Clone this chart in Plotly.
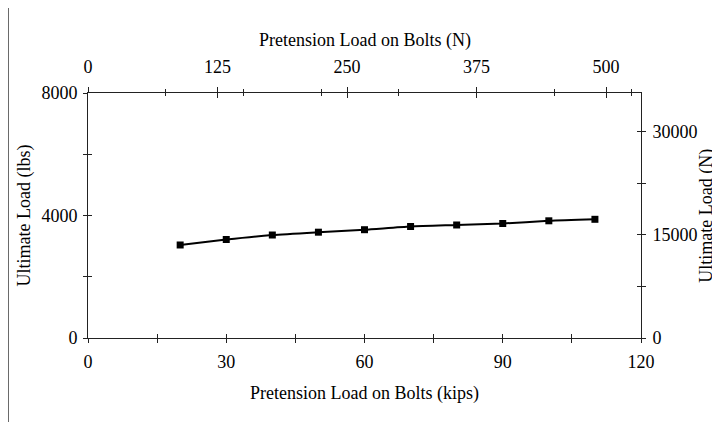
import plotly.graph_objects as go

# Datos
pretension_kips = [20, 30, 40, 50, 60, 70, 80, 90, 100, 110]
ultimate_lbs = [3037, 3216, 3363, 3455, 3536, 3641, 3690, 3739, 3827, 3876]

KIP_TO_KN = 4.448
LB_TO_N = 4.448

x_range = [0, 120]
y_range = [0, 8000]

x_ticks = [0, 15, 30, 45, 60, 75, 90, 105, 120]
x_labels = ["0", "", "30", "", "60", "", "90", "", "120"]
y_ticks = [0, 2000, 4000, 6000, 8000]
y_labels = ["0", "", "4000", "", "8000"]
top_ticks = [0, 125, 250, 375, 500]
top_minor = [75, 150, 225, 300, 450, 525]
right_ticks = [0, 7500, 15000, 22500, 30000]
right_labels = ["0", "", "15000", "", "30000"]

FONT = "Liberation Serif, Times New Roman, serif"
fs = 18

fig = go.Figure()

fig.add_trace(go.Scatter(
    x=pretension_kips, y=ultimate_lbs,
    mode="lines+markers",
    line=dict(color="black", width=2, shape="spline", smoothing=0.6),
    marker=dict(symbol="square", size=7, color="black"),
    showlegend=False, hoverinfo="x+y",
))

# trazas vacias para que se dibujen los ejes secundarios
for xa, ya in [("x2", "y2"), ("x3", "y3"), ("x4", "y4")]:
    fig.add_trace(go.Scatter(x=[None], y=[None], xaxis=xa, yaxis=ya,
                             showlegend=False, hoverinfo="skip"))

top_range = [x_range[0] * KIP_TO_KN, x_range[1] * KIP_TO_KN]
right_range = [y_range[0] * LB_TO_N, y_range[1] * LB_TO_N]

common = dict(showgrid=False, zeroline=False, showline=True, linecolor="#222",
              linewidth=1, tickcolor="#222", tickwidth=1,
              tickfont=dict(family=FONT, size=fs, color="black"))

# la pagina tiene un margen de 8px en el body: se compensa aqui
fig.update_layout(
    width=712, height=414,
    margin=dict(l=80, r=79, t=85, b=84),
    paper_bgcolor="white", plot_bgcolor="white",
    font=dict(family=FONT, size=fs, color="black"),
    xaxis=dict(range=x_range, tickmode="array", tickvals=x_ticks, ticktext=x_labels,
               ticks="outside", ticklen=4, anchor="y", side="bottom",
               ticklabelstandoff=3, **common),
    yaxis=dict(range=y_range, tickmode="array", tickvals=y_ticks, ticktext=y_labels,
               ticks="outside", ticklen=4, anchor="x", side="left",
               ticklabelstandoff=2, **common),
    # eje superior en kN
    xaxis2=dict(range=top_range, tickmode="array", tickvals=top_ticks,
                ticks="outside", ticklen=5, overlaying="x", anchor="y", side="top",
                minor=dict(tickmode="array", tickvals=top_minor, ticks="outside",
                           ticklen=3, tickcolor="#222"),
                ticklabelstandoff=7, **common),
    # eje derecho en N
    yaxis2=dict(range=right_range, tickmode="array", tickvals=right_ticks,
                ticktext=right_labels, ticks="outside", ticklen=4,
                overlaying="y", anchor="x", side="right",
                ticklabelstandoff=3, **common),
    # copias para que las marcas crucen el eje
    xaxis3=dict(range=x_range, tickmode="array", tickvals=x_ticks, ticks="inside",
                ticklen=4, showticklabels=False, overlaying="x", anchor="y3",
                side="bottom", **common),
    yaxis3=dict(range=y_range, tickmode="array", tickvals=y_ticks, ticks="inside",
                ticklen=4, showticklabels=False, overlaying="y", anchor="x3",
                side="left", **common),
    xaxis4=dict(range=top_range, tickmode="array", tickvals=top_ticks, ticks="inside",
                ticklen=5, showticklabels=False, overlaying="x", anchor="y4",
                side="top",
                minor=dict(tickmode="array", tickvals=top_minor, ticks="inside",
                           ticklen=3, tickcolor="#222"),
                **common),
    yaxis4=dict(range=right_range, tickmode="array", tickvals=right_ticks,
                ticks="inside", ticklen=4, showticklabels=False, overlaying="y",
                anchor="x4", side="right", **common),
)

ann = dict(xref="paper", yref="paper", showarrow=False, xanchor="center",
           yanchor="middle", font=dict(family=FONT, size=fs, color="black"))
fig.add_annotation(text="Pretension Load on Bolts (N)", x=0.5, y=1.216, **ann)
fig.add_annotation(text="Pretension Load on Bolts (kips)", x=0.5, y=-0.2245, **ann)
fig.add_annotation(text="Ultimate Load (lbs)", x=-0.1157, y=0.5, textangle=-90, **ann)
fig.add_annotation(text="Ultimate Load (N)", x=1.118, y=0.5, textangle=-90, **ann)

# marco exterior del grafico
fig.add_shape(type="line", xref="paper", yref="paper", x0=-0.1447, x1=-0.1447,
              y0=-0.5, y1=1.351, line=dict(color="#333", width=1.5))
fig.add_shape(type="line", xref="paper", yref="paper", x0=-0.1447, x1=1.2,
              y0=1.351, y1=1.351, line=dict(color="#555", width=1.5))

fig.write_html("out.html")
